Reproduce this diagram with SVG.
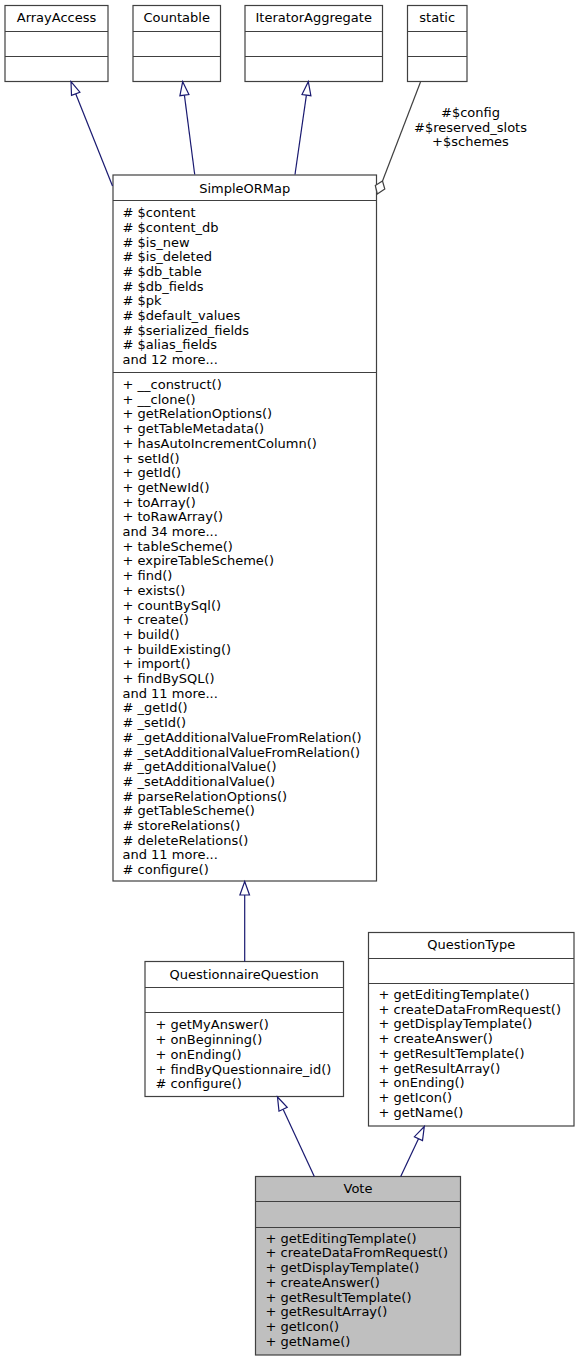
<svg xmlns="http://www.w3.org/2000/svg" width="579" height="1361" viewBox="0 0 579 1361">
<style>
text{font-family:"DejaVu Sans","Liberation Sans",sans-serif;font-size:13px;fill:#000}
.c{text-anchor:middle}
.box{fill:#fff;stroke:#404040;stroke-width:1.2}
.sel{fill:#bfbfbf;stroke:#404040;stroke-width:1.2}
.div{stroke:#404040;stroke-width:1.2}
.inh{fill:none;stroke:#191970;stroke-width:1.2}
.ah{fill:#fff;stroke:#191970;stroke-width:1.2}
.use{fill:none;stroke:#404040;stroke-width:1.2}
.dm{fill:#fff;stroke:#404040;stroke-width:1.2}
</style>
<rect width="579" height="1361" fill="#fff"/>
<g id="ArrayAccess">
<rect class="box" x="5" y="5.5" width="103" height="76"/>
<line class="div" x1="5" y1="31.5" x2="108" y2="31.5"/>
<line class="div" x1="5" y1="56.5" x2="108" y2="56.5"/>
<text class="c" x="56.5" y="22">ArrayAccess</text>
</g>
<g id="Countable">
<rect class="box" x="133" y="5.5" width="87.5" height="76"/>
<line class="div" x1="133" y1="31.5" x2="220.5" y2="31.5"/>
<line class="div" x1="133" y1="56.5" x2="220.5" y2="56.5"/>
<text class="c" x="176.7" y="22">Countable</text>
</g>
<g id="IteratorAggregate">
<rect class="box" x="245" y="5.5" width="137.5" height="76"/>
<line class="div" x1="245" y1="31.5" x2="382.5" y2="31.5"/>
<line class="div" x1="245" y1="56.5" x2="382.5" y2="56.5"/>
<text class="c" x="313.7" y="22">IteratorAggregate</text>
</g>
<g id="static">
<rect class="box" x="407.5" y="5.5" width="59.5" height="76"/>
<line class="div" x1="407.5" y1="31.5" x2="467" y2="31.5"/>
<line class="div" x1="407.5" y1="56.5" x2="467" y2="56.5"/>
<text class="c" x="437.2" y="22">static</text>
</g>
<g id="SimpleORMap">
<rect class="box" x="113" y="175" width="263.5" height="706"/>
<line class="div" x1="113" y1="200.5" x2="376.5" y2="200.5"/>
<line class="div" x1="113" y1="372.5" x2="376.5" y2="372.5"/>
<text class="c" x="244.7" y="193">SimpleORMap</text>
<text x="122.5" y="217.3"># $content</text>
<text x="122.5" y="232"># $content_db</text>
<text x="122.5" y="246.6"># $is_new</text>
<text x="122.5" y="261.3"># $is_deleted</text>
<text x="122.5" y="276"># $db_table</text>
<text x="122.5" y="290.6"># $db_fields</text>
<text x="122.5" y="305.3"># $pk</text>
<text x="122.5" y="320"># $default_values</text>
<text x="122.5" y="334.7"># $serialized_fields</text>
<text x="122.5" y="349.3"># $alias_fields</text>
<text x="122.5" y="364">and 12 more...</text>
<text x="122.5" y="389">+ __construct()</text>
<text x="122.5" y="403.7">+ __clone()</text>
<text x="122.5" y="418.4">+ getRelationOptions()</text>
<text x="122.5" y="433.1">+ getTableMetadata()</text>
<text x="122.5" y="447.8">+ hasAutoIncrementColumn()</text>
<text x="122.5" y="462.5">+ setId()</text>
<text x="122.5" y="477.2">+ getId()</text>
<text x="122.5" y="491.9">+ getNewId()</text>
<text x="122.5" y="506.6">+ toArray()</text>
<text x="122.5" y="521.3">+ toRawArray()</text>
<text x="122.5" y="536">and 34 more...</text>
<text x="122.5" y="550.7">+ tableScheme()</text>
<text x="122.5" y="565.4">+ expireTableScheme()</text>
<text x="122.5" y="580.1">+ find()</text>
<text x="122.5" y="594.8">+ exists()</text>
<text x="122.5" y="609.5">+ countBySql()</text>
<text x="122.5" y="624.2">+ create()</text>
<text x="122.5" y="638.9">+ build()</text>
<text x="122.5" y="653.6">+ buildExisting()</text>
<text x="122.5" y="668.3">+ import()</text>
<text x="122.5" y="683">+ findBySQL()</text>
<text x="122.5" y="697.7">and 11 more...</text>
<text x="122.5" y="712.4"># _getId()</text>
<text x="122.5" y="727.1"># _setId()</text>
<text x="122.5" y="741.8"># _getAdditionalValueFromRelation()</text>
<text x="122.5" y="756.5"># _setAdditionalValueFromRelation()</text>
<text x="122.5" y="771.2"># _getAdditionalValue()</text>
<text x="122.5" y="785.9"># _setAdditionalValue()</text>
<text x="122.5" y="800.6"># parseRelationOptions()</text>
<text x="122.5" y="815.3"># getTableScheme()</text>
<text x="122.5" y="830"># storeRelations()</text>
<text x="122.5" y="844.7"># deleteRelations()</text>
<text x="122.5" y="859.4">and 11 more...</text>
<text x="122.5" y="874.1"># configure()</text>
</g>
<g id="QuestionnaireQuestion">
<rect class="box" x="145" y="961.5" width="198.5" height="135"/>
<line class="div" x1="145" y1="987.5" x2="343.5" y2="987.5"/>
<line class="div" x1="145" y1="1012.5" x2="343.5" y2="1012.5"/>
<text class="c" x="244.2" y="978.7">QuestionnaireQuestion</text>
<text x="155.5" y="1029.4">+ getMyAnswer()</text>
<text x="155.5" y="1044.1">+ onBeginning()</text>
<text x="155.5" y="1058.8">+ onEnding()</text>
<text x="155.5" y="1073.5">+ findByQuestionnaire_id()</text>
<text x="155.5" y="1088.2"># configure()</text>
</g>
<g id="QuestionType">
<rect class="box" x="368.5" y="932.5" width="205.5" height="193.5"/>
<line class="div" x1="368.5" y1="958.5" x2="574" y2="958.5"/>
<line class="div" x1="368.5" y1="983.5" x2="574" y2="983.5"/>
<text class="c" x="471.2" y="949">QuestionType</text>
<text x="378.5" y="999">+ getEditingTemplate()</text>
<text x="378.5" y="1013.7">+ createDataFromRequest()</text>
<text x="378.5" y="1028.4">+ getDisplayTemplate()</text>
<text x="378.5" y="1043.1">+ createAnswer()</text>
<text x="378.5" y="1057.8">+ getResultTemplate()</text>
<text x="378.5" y="1072.5">+ getResultArray()</text>
<text x="378.5" y="1087.2">+ onEnding()</text>
<text x="378.5" y="1101.9">+ getIcon()</text>
<text x="378.5" y="1116.6">+ getName()</text>
</g>
<g id="Vote">
<rect class="sel" x="255.5" y="1176.5" width="205" height="178.5"/>
<line class="div" x1="255.5" y1="1201.5" x2="460.5" y2="1201.5"/>
<line class="div" x1="255.5" y1="1227.5" x2="460.5" y2="1227.5"/>
<text class="c" x="358" y="1193.4">Vote</text>
<text x="265.5" y="1242.7">+ getEditingTemplate()</text>
<text x="265.5" y="1257.4">+ createDataFromRequest()</text>
<text x="265.5" y="1272.1">+ getDisplayTemplate()</text>
<text x="265.5" y="1286.8">+ createAnswer()</text>
<text x="265.5" y="1301.5">+ getResultTemplate()</text>
<text x="265.5" y="1316.2">+ getResultArray()</text>
<text x="265.5" y="1330.9">+ getIcon()</text>
<text x="265.5" y="1345.6">+ getName()</text>
</g>
<g id="connectors">
<path class="inh" d="M112.5,186 L75.7,93.8"/>
<polygon class="ah" points="71,81.7 79.9,92.2 71.5,95.4"/>
<path class="inh" d="M194.7,174.5 L184.4,95.1"/>
<polygon class="ah" points="182.7,81.7 188.9,94.5 179.9,95.7"/>
<path class="inh" d="M295,174.5 L306.4,95.1"/>
<polygon class="ah" points="308.3,81.7 310.9,95.7 302,94.5"/>
<path class="use" d="M420.5,82 L382.5,181"/>
<polygon class="dm" points="382.5,181 384.8,189 377.3,194 375.3,185.5"/>
<text class="c" x="470.5" y="117">#$config</text>
<text class="c" x="470.5" y="131.7">#$reserved_slots</text>
<text class="c" x="470.5" y="146.4">+$schemes</text>
<path class="inh" d="M244.7,961.5 L244.7,895"/>
<polygon class="ah" points="244.7,881.5 249.5,895 239.9,895"/>
<path class="inh" d="M314.3,1176.5 L283.1,1109.3"/>
<polygon class="ah" points="277.5,1097 287.2,1107.4 279,1111.2"/>
<path class="inh" d="M400.7,1176.5 L418.5,1138.7"/>
<polygon class="ah" points="424.3,1126.5 422.5,1140.6 414.4,1136.7"/>
</g>
</svg>
